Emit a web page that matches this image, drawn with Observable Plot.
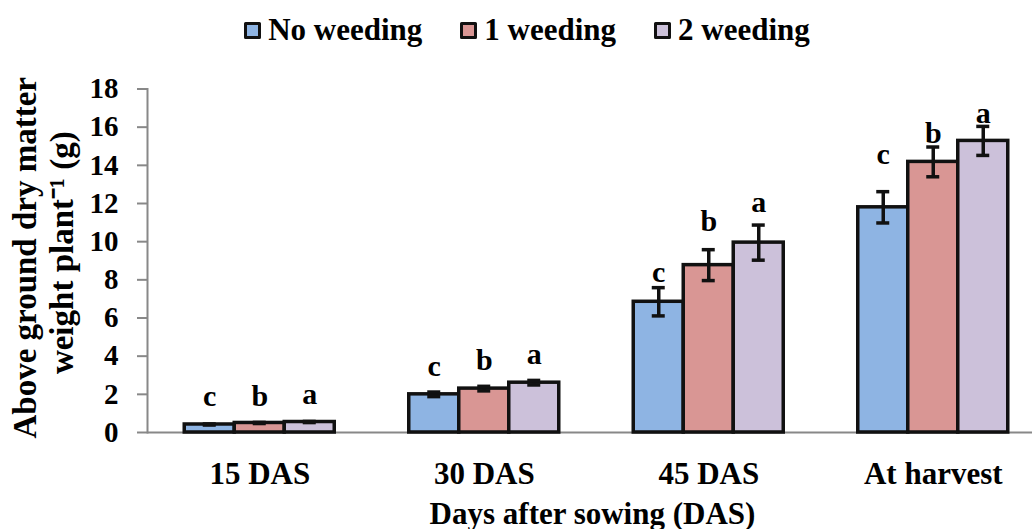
<!DOCTYPE html>
<html><head><meta charset="utf-8">
<script src="https://cdn.jsdelivr.net/npm/d3@7"></script>
<script src="https://cdn.jsdelivr.net/npm/@observablehq/plot@0.6"></script>
<style>
html,body{margin:0;padding:0;background:#fff;overflow:hidden;width:1032px;height:529px}
#legend{height:60px;display:flex;align-items:center;justify-content:center;padding-left:22px;box-sizing:border-box;font-family:"Liberation Serif","Times New Roman",serif;font-weight:bold;font-size:31px;color:#000}
.item{display:flex;align-items:center;margin:0 19px;white-space:nowrap}
.sw{width:11px;height:11px;border:3.5px solid #111;margin-right:7px;border-radius:1.5px}
#chart svg text{font-weight:bold}
</style></head><body>
<div id="legend"></div><div id="chart"></div>
<script>
const groups = ["15 DAS", "30 DAS", "45 DAS", "At harvest"];
const series = ["No weeding", "1 weeding", "2 weeding"];
const colors = ["#8EB4E3", "#D99694", "#CCC1DA"];
const noWeeding = [0.42, 2.00, 6.85, 11.80];
const oneWeeding = [0.50, 2.30, 8.77, 14.18];
const twoWeeding = [0.55, 2.61, 9.95, 15.28];
const noWeedingErr = [0.03, 0.12, 0.74, 0.82];
const oneWeedingErr = [0.03, 0.12, 0.81, 0.78];
const twoWeedingErr = [0.03, 0.12, 0.92, 0.76];
const letters = ["c", "b", "a"];
const noWeedingLabelY = [1.41, 2.98, 7.87, 14.06];
const oneWeedingLabelY = [1.41, 3.28, 10.57, 15.19];
const twoWeedingLabelY = [1.50, 3.60, 11.58, 16.24];
const yTicks = [0, 2, 4, 6, 8, 10, 12, 14, 16, 18];

const values = [noWeeding, oneWeeding, twoWeeding];
const errs = [noWeedingErr, oneWeedingErr, twoWeedingErr];
const labelYs = [noWeedingLabelY, oneWeedingLabelY, twoWeedingLabelY];

// legend
const leg = document.getElementById("legend");
series.forEach((s, i) => {
  const it = document.createElement("div"); it.className = "item";
  const sw = document.createElement("div"); sw.className = "sw"; sw.style.background = colors[i];
  const tx = document.createElement("span"); tx.textContent = s;
  it.appendChild(sw); it.appendChild(tx); leg.appendChild(it);
});

const width = 1032, height = 469;
const marginLeft = 147, marginRight = -13;
const step = (width - marginRight - marginLeft) / groups.length;
const barW = 50, capW = 13;
const font = "'Liberation Serif','Times New Roman',serif";

const data = [];
series.forEach((s, si) => groups.forEach((g, gi) => data.push({
  group: g, series: s, si, value: values[si][gi], err: errs[si][gi],
  lo: values[si][gi] - errs[si][gi], hi: values[si][gi] + errs[si][gi],
  letter: letters[si], ly: labelYs[si][gi]
})));

const marks = [Plot.ruleY([0], {stroke: "#888", strokeWidth: 2})];
series.forEach((s, si) => {
  const d = data.filter(r => r.si === si);
  marks.push(Plot.barY(d, {x: "group", y: "value", fill: colors[si], stroke: "#111", strokeWidth: 3.5,
    insetLeft: (step - barW) / 2, insetRight: (step - barW) / 2, dx: (si - 1) * barW}));
});
series.forEach((s, si) => {
  const d = data.filter(r => r.si === si);
  const dx = (si - 1) * barW;
  marks.push(Plot.ruleX(d, {x: "group", y1: "lo", y2: "hi", stroke: "#111", strokeWidth: 3.5, dx}));
  marks.push(Plot.tickY(d, {x: "group", y: "lo", stroke: "#111", strokeWidth: 3.5, dx,
    insetLeft: (step - capW) / 2, insetRight: (step - capW) / 2}));
  marks.push(Plot.tickY(d, {x: "group", y: "hi", stroke: "#111", strokeWidth: 3.5, dx,
    insetLeft: (step - capW) / 2, insetRight: (step - capW) / 2}));
  marks.push(Plot.text(d, {x: "group", y: "ly", text: "letter", dx, lineAnchor: "bottom",
    fontSize: 30, fontWeight: "bold", fill: "#000"}));
});
marks.push(Plot.frame({anchor: "left", stroke: "#888", strokeWidth: 2}));
marks.push(Plot.axisY({ticks: yTicks, tickSize: 10, tickPadding: 19, stroke: "#888", strokeWidth: 2,
  fill: "#000", fontSize: 29, fontWeight: "bold", label: null}));
marks.push(Plot.axisX({tickSize: 0, tickPadding: 29, fill: "#000", fontSize: 31, fontWeight: "bold", label: null}));
marks.push(Plot.text(["Above ground dry matter"], {text: d => d, frameAnchor: "left", rotate: -90, dx: -112, dy: -3,
  textAnchor: "middle", lineAnchor: "bottom", fontSize: 33, fontWeight: "bold", fill: "#000"}));
marks.push(Plot.text(["weight plant\u207B\u00B9 (g)"], {text: d => d, frameAnchor: "left", rotate: -90, dx: -75, dy: -8,
  textAnchor: "middle", lineAnchor: "bottom", fontSize: 33, fontWeight: "bold", fill: "#000"}));
marks.push(Plot.text(["Days after sowing (DAS)"], {text: d => d, frameAnchor: "bottom", dy: 91, dx: -4,
  textAnchor: "middle", lineAnchor: "bottom", fontSize: 31, fontWeight: "bold", fill: "#000"}));

const chart = Plot.plot({
  width, height, marginLeft, marginRight, marginTop: 28.5, marginBottom: 97,
  x: {type: "band", domain: groups, padding: 0, round: false, axis: null},
  y: {domain: [0, 18], axis: null},
  style: {fontFamily: font, background: "white", color: "#000"},
  marks
});
document.getElementById("chart").appendChild(chart);
</script>
</body></html>
